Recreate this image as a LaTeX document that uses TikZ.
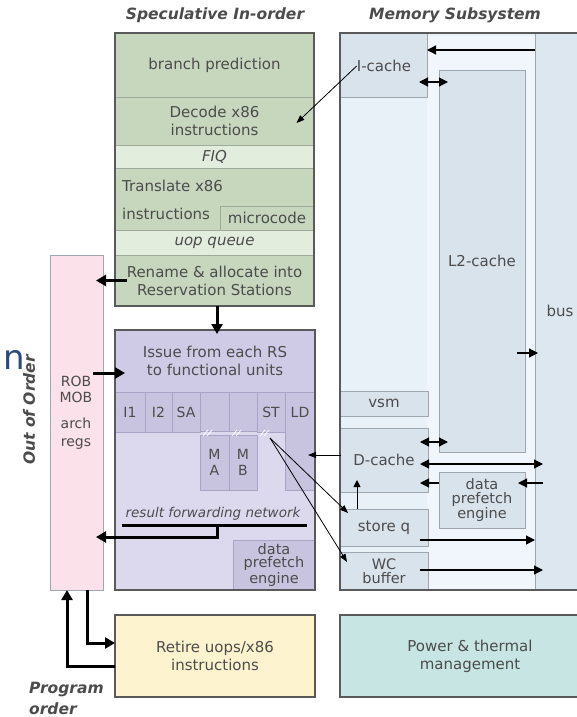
\documentclass[tikz,border=0pt]{standalone}
\usepackage{fontspec}
\setmainfont{DejaVu Sans}
\usetikzlibrary{arrows.meta}
\definecolor{txt}{HTML}{4C4C4C}
\definecolor{frame}{HTML}{5A5A5A}
\definecolor{grn}{HTML}{C6D7BE}
\definecolor{grnl}{HTML}{E3EDDD}
\definecolor{grnline}{HTML}{9FAA9C}
\definecolor{pur}{HTML}{DCD9EE}
\definecolor{purh}{HTML}{CFCBE6}
\definecolor{purc}{HTML}{C8C4E0}
\definecolor{purline}{HTML}{A8A4C6}
\definecolor{pink}{HTML}{FBE1EA}
\definecolor{meml}{HTML}{E8F1F8}
\definecolor{memw}{HTML}{F0F6FB}
\definecolor{bus}{HTML}{DDE7F0}
\definecolor{memc}{HTML}{D9E3EC}
\definecolor{memline}{HTML}{9EA7B0}
\definecolor{ylw}{HTML}{FDF4CF}
\definecolor{teal}{HTML}{C6E5E3}
\definecolor{navy}{HTML}{2B4A7A}
\newcommand\bx[7]{\node[#6, minimum width={(#4-#2)*1pt}, minimum height={(#5-#3)*1pt}] (#1) at ({(#2+#4)/2},{(#3+#5)/2}) {#7};}
\tikzset{
  base/.style={inner sep=0pt, outer sep=0pt, align=center, text=txt, font=\fontsize{15}{18}\selectfont},
  gcell/.style={base, draw=grnline, line width=0.8pt, fill=grn},
  gcelll/.style={base, draw=grnline, line width=0.8pt, fill=grnl, font=\fontsize{15}{18}\selectfont\itshape},
  frameb/.style={base, draw=frame, line width=2.4pt},
  pcell/.style={base, draw=purline, line width=0.8pt, fill=purc, font=\fontsize{14}{16}\selectfont},
  mcell/.style={base, draw=memline, line width=0.8pt, fill=memc},
  lbl/.style={inner sep=0pt, text=txt, font=\fontsize{15}{18}\selectfont},
  ttl/.style={inner sep=0pt, text=txt, font=\fontsize{15.5}{19}\selectfont\bfseries\itshape},
  tharr/.style={line width=3pt, -{Triangle[length=10pt,width=11pt]}},
  marr/.style={line width=1.2pt, -{Triangle[length=9pt,width=9pt]}},
  mdarr/.style={line width=1.2pt, {Triangle[length=9pt,width=9pt]}-{Triangle[length=9pt,width=9pt]}},
  tarr/.style={line width=0.8pt, -{Triangle[length=8pt,width=6pt]}},
}
\begin{document}
\begin{tikzpicture}[x=1pt,y=-1pt]
\useasboundingbox (0,0) rectangle (577,717);
\clip (0,0) rectangle (577,717);
\fill[white] (0,0) rectangle (577,717);

% ---------- titles ----------
\node[ttl] (t1) at (215,15) {Speculative In-order};
\node[ttl] (t2) at (455,15) {Memory Subsystem};
\node[ttl, rotate=90] (t3) at (29,410) {Out of Order};
\node[ttl, anchor=west, align=left, font=\fontsize{15.5}{21}\selectfont\bfseries\itshape] (t4) at (29,698) {Program\\order};
\node[inner sep=0pt, text=navy, font=\fontsize{34}{34}\selectfont] (nn) at (14,360) {n};

% ---------- coordinates for levels ----------
\coordinate (y50) at (0,50);
\coordinate (y82) at (0,82);
\coordinate (y353) at (0,353);
\coordinate (y373) at (0,373);
\coordinate (y442) at (0,442);
\coordinate (y455) at (0,455);
\coordinate (y464) at (0,464);
\coordinate (y483) at (0,483);
\coordinate (y537) at (0,537);
\coordinate (y540) at (0,540);
\coordinate (y570) at (0,570);
\coordinate (y643) at (0,643);
\coordinate (y666) at (0,666);
\coordinate (x67) at (67,0);
\coordinate (x87) at (87,0);

% ---------- memory subsystem ----------
\bx{mem}{340}{33}{600}{590}{base, fill=meml}{}
\bx{memin}{427}{36}{535}{590}{base, fill=memw}{}
\bx{buscol}{535}{33}{600}{590}{base, fill=bus, draw=memline, line width=0.8pt}{}
\bx{ic}{340}{33}{427}{97}{mcell}{}
\node[lbl] (icl) at (384,66) {I-cache};
\bx{l2}{439}{70}{525}{452}{mcell}{L2-cache}
\node[lbl] (busl) at (560,311) {bus};
\bx{vsm}{340}{391}{428}{416}{mcell}{vsm}
\bx{dc}{340}{428}{428}{492}{mcell}{D-cache}
\bx{mpf}{439}{472}{525}{528}{mcell, font=\fontsize{14.5}{14}\selectfont}{data\\prefetch\\engine}
\bx{sq}{340}{509}{428}{546}{mcell}{store q}
\bx{wc}{340}{552}{428}{590}{mcell, font=\fontsize{14.5}{14}\selectfont}{WC\\buffer}
\draw[frame, line width=2.4pt] (mem.south east) -- (mem.south west) -- (mem.north west) -- (mem.north east);

\draw[marr] (buscol.west |- y50) -- (ic.east |- y50);
\draw[mdarr] ([xshift=-8pt]ic.east |- y82) -- ([xshift=9pt]l2.west |- y82);
\draw[marr] ([xshift=-8pt]l2.east |- y353) -- ([xshift=3pt]buscol.west |- y353);
\draw[mdarr] ([xshift=-8pt]dc.east |- y442) -- ([xshift=9pt]l2.west |- y442);
\draw[mdarr] ([xshift=-8pt]dc.east |- y464) -- ([xshift=8pt]buscol.west |- y464);
\draw[marr] ([xshift=8pt]buscol.west |- y483) -- ([xshift=-7pt]mpf.east |- y483);
\draw[marr] (mpf.west |- y483) -- ([xshift=-8pt]dc.east |- y483);
\draw[line width=0.9pt, -{Triangle[length=7pt,width=7pt]}] ([xshift=17pt]sq.north west) -- ([xshift=17pt, yshift=-52pt]dc.north west);
\draw[marr] ([xshift=-8pt]sq.east |- y540) -- (buscol.west |- y540);
\draw[marr] ([xshift=-8pt]wc.east |- y570) -- ([xshift=8pt]buscol.west |- y570);

% ---------- green in-order box ----------
\bx{bp}{115}{33}{314}{97}{gcell}{branch prediction}
\bx{dec}{115}{97}{314}{145}{gcell}{Decode x86\\instructions}
\bx{fiq}{115}{145}{314}{168}{gcelll}{FIQ}
\bx{tr}{115}{168}{314}{230}{gcell}{}
\node[lbl, anchor=west] (trl1) at (122,186) {Translate x86};
\node[lbl, anchor=west] (trl2) at (122,214) {instructions};
\bx{mc}{220}{206}{314}{230}{gcell}{microcode}
\bx{uop}{115}{230}{314}{255}{gcelll}{uop queue}
\bx{ren}{115}{255}{314}{306}{gcell}{Rename \& allocate into\\Reservation Stations}
\bx{grnbox}{115}{33}{314}{306}{frameb}{}

\draw[tarr] (icl.west) -- ([xshift=82pt, yshift=-2pt]dec.center);

% ---------- pink ROB ----------
\bx{rob}{50}{255}{103}{590}{base, fill=pink, draw=memline, line width=0.9pt}{}
\node[lbl, align=center, font=\fontsize{14}{16}\selectfont] (robl) at (76,389) {ROB\\MOB};
\node[lbl, align=center, font=\fontsize{14}{18}\selectfont] (archl) at (76,434) {arch\\regs};

% ---------- purple OoO box ----------
\bx{ooo}{115}{330}{315}{590}{base, fill=pur}{}
\bx{iss}{115}{330}{315}{392}{base, fill=purh, draw=purline, line width=0.8pt}{Issue from each RS\\to functional units}
\bx{ci1}{115}{392}{145}{432}{pcell}{I1}
\bx{ci2}{145}{392}{172}{432}{pcell}{I2}
\bx{csa}{172}{392}{200}{432}{pcell}{SA}
\bx{cma}{200}{392}{229}{431}{pcell}{}
\bx{cmb}{229}{392}{257}{431}{pcell}{}
\bx{cst}{257}{392}{285}{432}{pcell}{ST}
\bx{cld}{285}{392}{315}{490}{pcell}{}
\node[lbl, font=\fontsize{14}{16}\selectfont] (ldl) at (300,412) {LD};
\bx{ma}{200}{435}{229}{490}{pcell}{M\\A}
\bx{mb}{229}{435}{257}{490}{pcell}{M\\B}
\foreach \xx in {203,232,260}{
  \draw[white, line width=0.8pt] (\xx,436) -- (\xx+5,430);
  \draw[white, line width=0.8pt] (\xx+4,436) -- (\xx+9,430);
}
\node[lbl, font=\fontsize{13.5}{16}\selectfont\itshape] (rfn) at (213,514) {result forwarding network};
\coordinate (rfa) at (122,525);
\coordinate (rfb) at (307,525);
\coordinate (rfm) at (217,525);
\draw[line width=3pt] (rfa) -- (rfb);
\bx{ppf}{233}{540}{315}{590}{pcell, font=\fontsize{14.5}{13}\selectfont}{data\\prefetch\\engine}
\bx{ooobox}{115}{330}{315}{590}{frameb}{}

% ---------- bottom boxes ----------
\bx{ret}{115}{615}{315}{697}{frameb, fill=ylw}{Retire uops/x86\\instructions}
\bx{pwr}{340}{615}{600}{697}{frameb, fill=teal}{Power \& thermal\\management}

% ---------- thick connectors ----------
\draw[tharr] ([xshift=12pt]ren.west) -- ([xshift=-7pt]rob.east |- ren.west);
\draw[tharr] (grnbox.south -| rfm) -- ([yshift=-4pt]ooobox.north -| rfm);
\draw[tharr] ([xshift=-10pt]rob.east |- y373) -- ([xshift=10pt]iss.west |- y373);
\draw[tharr] (rfm) -- (rfm |- y537) -- ([xshift=-7pt]rob.east |- y537);
\draw[tharr] (ret.west |- y666) -- (x67 |- y666) -- (x67 |- rob.south);
\draw[tharr] (x87 |- rob.south) -- (x87 |- y643) -- (ret.west |- y643);

% ST to store q and WC
\coordinate (stp) at (270,438);
\draw[tarr] (stp) -- ([xshift=8pt,yshift=-4pt]sq.north west);
\draw[tarr] (stp) -- ([xshift=7pt,yshift=-10pt]wc.north west);
\draw[tarr] ([xshift=1pt]dc.west |- y455) -- ([xshift=-7pt]cld.east |- y455);
\end{tikzpicture}
\end{document}
